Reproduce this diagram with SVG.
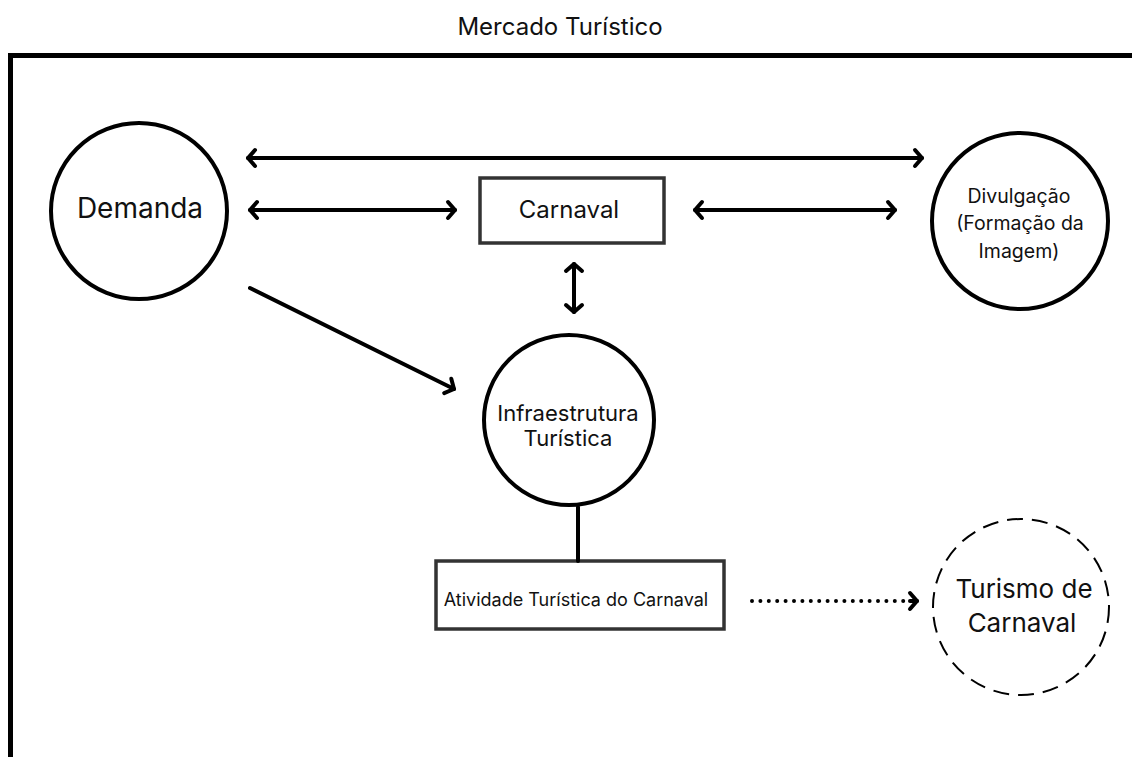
<svg xmlns="http://www.w3.org/2000/svg" width="1132" height="757" viewBox="0 0 1132 757">
<style>
.t{font-family:Inter,"Liberation Sans",sans-serif;fill:#111;text-anchor:middle}
.title{font-family:Inter,"Liberation Sans",sans-serif;fill:#111;text-anchor:middle;font-size:24px}
.c{fill:#fff;stroke:#000;stroke-width:4}
.r{fill:#fff;stroke:#333;stroke-width:3.5}
.a{stroke:#000;stroke-width:4;fill:none;stroke-linecap:round}
</style>
<defs>
<marker id="ch" viewBox="-12 -12 24 24" refX="0" refY="0" markerWidth="24" markerHeight="24" markerUnits="userSpaceOnUse" orient="auto-start-reverse">
<path d="M -7 -8 L 0 0 L -7 8" fill="none" stroke="#000" stroke-width="4" stroke-linecap="round" stroke-linejoin="round"/>
</marker>
</defs>
<rect width="1132" height="757" fill="#fff"/>
<text class="title" x="560" y="35">Mercado Turístico</text>
<path d="M 10.5 757 L 10.5 55.5 L 1132 55.5" fill="none" stroke="#000" stroke-width="5"/>
<g id="demanda">
<circle class="c" cx="139" cy="211" r="88"/>
<text class="t" x="140" y="218" font-size="28">Demanda</text>
</g>
<g id="carnaval">
<rect class="r" x="480" y="178" width="184" height="65"/>
<text class="t" x="569" y="218" font-size="24">Carnaval</text>
</g>
<g id="divulgacao">
<circle class="c" cx="1020" cy="221" r="88"/>
<text class="t" x="1019" y="203" font-size="19.5">Divulgação</text>
<text class="t" x="1020" y="230" font-size="19.5">(Formação da</text>
<text class="t" x="1019" y="258" font-size="19.5">Imagem)</text>
</g>
<g id="infraestrutura">
<circle class="c" cx="569" cy="420" r="85"/>
<text class="t" x="568" y="421" font-size="22">Infraestrutura</text>
<text class="t" x="568" y="446" font-size="22">Turística</text>
</g>
<g id="atividade">
<rect class="r" x="436" y="561" width="288" height="68"/>
<text class="t" x="576" y="606" font-size="18">Atividade Turística do Carnaval</text>
</g>
<g id="turismo">
<circle cx="1021" cy="607" r="88" fill="#fff" stroke="#000" stroke-width="2" stroke-dasharray="16 9"/>
<text class="t" x="1024" y="598" font-size="26">Turismo de</text>
<text class="t" x="1022" y="632" font-size="26">Carnaval</text>
</g>
<g id="connectors">
<line class="a" x1="248" y1="158" x2="922" y2="158" marker-start="url(#ch)" marker-end="url(#ch)"/>
<line class="a" x1="250" y1="210" x2="455" y2="210" marker-start="url(#ch)" marker-end="url(#ch)"/>
<line class="a" x1="695" y1="210" x2="895" y2="210" marker-start="url(#ch)" marker-end="url(#ch)"/>
<line class="a" x1="574" y1="264" x2="574" y2="312" marker-start="url(#ch)" marker-end="url(#ch)"/>
<line class="a" x1="250" y1="288" x2="454" y2="389" marker-end="url(#ch)"/>
<line class="a" x1="578" y1="507" x2="578" y2="561"/>
<line class="a" x1="752" y1="601" x2="910" y2="601" stroke-dasharray="0 8.4"/>
<line class="a" x1="910" y1="601" x2="917" y2="601" stroke="none" marker-end="url(#ch)"/>
</g>
</svg>
